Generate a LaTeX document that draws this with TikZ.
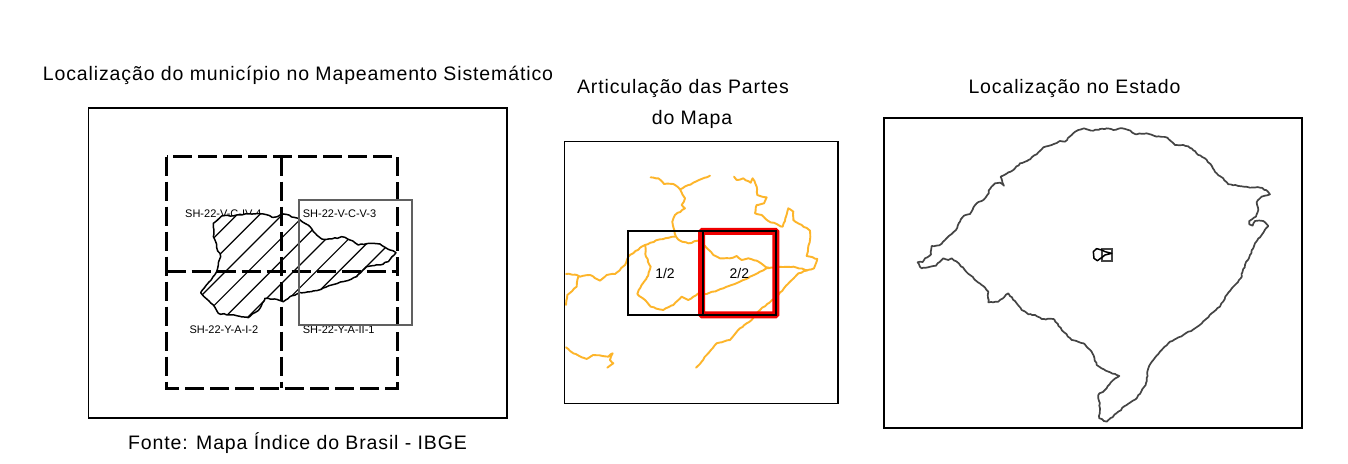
\documentclass[tikz,border=0pt]{standalone}
\usepackage{fontspec}
\setmainfont{Liberation Sans}
\newfontfamily\ttlfont[LetterSpace=4.5]{Liberation Sans}
\usetikzlibrary{decorations.pathmorphing}
\definecolor{riverc}{HTML}{FDB52A}
\definecolor{mapred}{HTML}{F00000}
\definecolor{greyline}{HTML}{444444}
\tikzset{
  panel/.style={draw=black,line width=1.9pt},
  ttl/.style={inner sep=0pt,font=\ttlfont\fontsize{19.5}{22}\selectfont,text=black},
  sheet/.style={inner sep=0pt,anchor=west,font=\fontsize{11}{13}\selectfont},
  zoomA/.style={shift={(150,140)},x=.3333pt,y=-.3333pt},
  zoomB/.style={shift={(560,140)},x=.3333pt,y=-.3333pt},
  zoomC/.style={shift={(880,115)},x=.3333pt,y=-.3333pt},
  river/.style={draw=riverc,line width=1.9pt,line join=round,line cap=round,decorate,decoration={random steps,segment length=3pt,amplitude=.5pt}},
  grid/.style={draw=black,line width=3.2pt,dash pattern=on 19pt off 6pt},
}
\def\munipath{(152,458)--(172,432)--(200,395)--(205,375)--(212,350)--(200,320)--(195,300)--(190,290)--(192,270)--(190,250)--(215,228)--(260,225)--(300,222)--(340,222)--(370,232)--(400,222)--(445,235)--(480,260)--(500,285)--(520,298)--(545,297)--(575,290)--(600,300)--(625,315)--(660,310)--(690,312)--(720,330)--(738,338)--(715,365)--(690,375)--(650,380)--(620,410)--(580,425)--(545,435)--(500,452)--(450,458)--(420,470)--(400,485)--(380,478)--(345,475)--(330,505)--(295,533)--(240,525)--(205,520)--(190,495)--cycle}
\begin{document}
\begin{tikzpicture}[x=1pt,y=-1pt]
\useasboundingbox (0,0) rectangle (1348,463);
\fill[white] (0,0) rectangle (1348,463);
% titles
\node[ttl] (t1) at (298,75) {Localização do município no Mapeamento Sistemático};
\node[ttl] (t2) at (683,88) {Articulação das Partes};
\node[ttl] (t3) at (692,119) {do Mapa};
\node[ttl] (t4) at (1074.5,88) {Localização no Estado};
\node[ttl] (t5) at (297.5,443) {Fonte: Mapa Índice do Brasil - IBGE};
% panels
\draw[panel] (88.5,108) rectangle (507,418);
\draw[panel] (564.5,141.5) rectangle (838,403.5);
\draw[panel] (884,118) rectangle (1302,428);
% panel 1
\begin{scope}[zoomA]
\node[sheet] (s1) at (105,222) {SH-22-V-C-IV-4};
\node[sheet] (s2) at (458,222) {SH-22-V-C-V-3};
\node[sheet] (s3) at (118,568) {SH-22-Y-A-I-2};
\node[sheet] (s4) at (458,568) {SH-22-Y-A-II-1};
\fill[white] \munipath;
\begin{scope}
\clip \munipath;
\foreach \c in {485,553,621,689,757,825,893,961,1029,1097}
  \draw[black,line width=1.2pt] ({\c-600},600) -- ({\c},0);
\end{scope}
\draw[black,line width=1.5pt,line join=round,decorate,decoration={random steps,segment length=3pt,amplitude=.7pt}] \munipath;
\draw[grid] (50,50) rectangle (743,745);
\draw[grid] (395,50) -- (395,745);
\draw[grid] (50,395) -- (743,395);
\draw[draw=greyline!85,line width=1.7pt] (447,180) rectangle (787,556);
\end{scope}
% panel 2
\begin{scope}[zoomB]
\draw[river] (272,112)--(295,115)--(312,132)--(340,132)--(360,148)--(375,175)--(365,195)--(375,205)--(345,225)--(337,245)--(348,290)--(360,302)--(385,310)--(415,302)--(435,318)--(460,345)--(480,355)--(510,355)--(530,348)--(545,360)--(565,355)--(590,362)--(610,375)--(625,385)--(650,382)--(700,380)--(740,390);
\draw[river] (360,148)--(400,128)--(450,107);
\draw[river] (522,110)--(530,120)--(550,115)--(572,128)--(578,115)--(590,140)--(592,165)--(620,172)--(612,190)--(590,195)--(585,220)--(605,225)--(625,243)--(655,255)--(668,260)--(678,230)--(685,205)--(700,215)--(700,240)--(725,255)--(750,272)--(750,300)--(740,348)--(772,357)--(762,385)--(740,392)--(715,400)--(690,425)--(650,470)--(600,510)--(575,540)--(540,565)--(510,600)--(470,610)--(440,645)--(425,665)--(408,683);
\draw[river] (18,402)--(50,405)--(60,410)--(90,405)--(120,422)--(140,405)--(165,402)--(195,375)--(205,350)--(245,320)--(255,315)--(300,298)--(345,290);
\draw[river] (255,315)--(258,350)--(272,380)--(262,410)--(245,435)--(232,462)--(255,480)--(272,500)--(310,510)--(340,495)--(365,470)--(385,480)--(415,460)--(440,462)--(490,445)--(540,425)--(570,410)--(600,395)--(625,382);
\draw[river] (55,410)--(50,440)--(22,465)--(18,495);
\draw[river] (18,622)--(40,640)--(80,657)--(100,645)--(145,650)--(158,640)--(150,660)--(160,670)--(142,683);
\draw[mapred,line width=7pt,rounded corners=1pt] (425,274) rectangle (648,525);
\draw[black,line width=1.7pt] (205,272) rectangle (428,526);
\draw[black,line width=2pt] (428,272) rectangle (648,526);
\node[inner sep=0pt,font=\fontsize{14}{16}\selectfont] (p1) at (315,402) {1/2};
\node[inner sep=0pt,font=\fontsize{14}{16}\selectfont] (p2) at (538,402) {2/2};
\end{scope}
% panel 3
\begin{scope}[zoomC]
\draw[draw=greyline,line width=1.7pt,line join=round,decorate,decoration={random steps,segment length=2.5pt,amplitude=.6pt}] (113,442)--(128,441)--(135,430)--(153,418)--(155,393)--(178,391)--(195,375)--(215,357)--(228,345)--(240,320)--(252,302)--(270,297)--(290,265)--(305,258)--(322,240)--(330,222)--(345,205)--(360,203)--(372,212)--(362,185)--(385,172)--(400,165)--(420,145)--(445,135)--(470,118)--(490,97)--(515,90)--(540,78)--(555,80)--(575,60)--(595,45)--(612,40)--(640,47)--(660,42)--(680,40)--(700,45)--(720,40)--(745,45)--(770,58)--(800,55)--(830,65)--(862,68)--(885,90)--(910,90)--(935,100)--(955,120)--(975,130)--(995,152)--(1010,175)--(1030,190)--(1045,208)--(1075,213)--(1110,218)--(1140,218)--(1158,225)--(1170,238)--(1145,245)--(1130,262)--(1135,285)--(1128,305)--(1108,318)--(1108,328)--(1118,332)--(1125,318)--(1150,318)--(1165,333)--(1145,360)--(1125,385)--(1110,420)--(1095,450)--(1082,490)--(1060,515)--(1040,540)--(1020,575)--(995,595)--(975,615)--(945,640)--(910,660)--(870,680)--(840,710)--(820,735)--(805,760)--(797,810)--(770,850)--(740,870)--(715,890)--(680,920)--(658,910)--(660,880)--(655,840)--(680,820)--(700,795)--(718,783)--(685,770)--(650,750)--(635,710)--(610,685)--(575,675)--(545,645)--(520,612)--(485,612)--(465,600)--(445,598)--(425,585)--(410,565)--(385,535)--(355,560)--(325,562)--(325,530)--(305,510)--(270,480)--(240,450)--(215,430)--(205,435)--(190,430)--(168,452)--(125,460)--cycle;
\draw[draw=greyline,line width=1.7pt] (667,402) rectangle (697,437);
\draw[black,line width=1.5pt,line join=round] (640,410)--(650,401)--(665,405)--(675,410)--(695,415)--(675,420)--(665,428)--(652,437)--(642,430)--cycle;
\end{scope}
\end{tikzpicture}
\end{document}
